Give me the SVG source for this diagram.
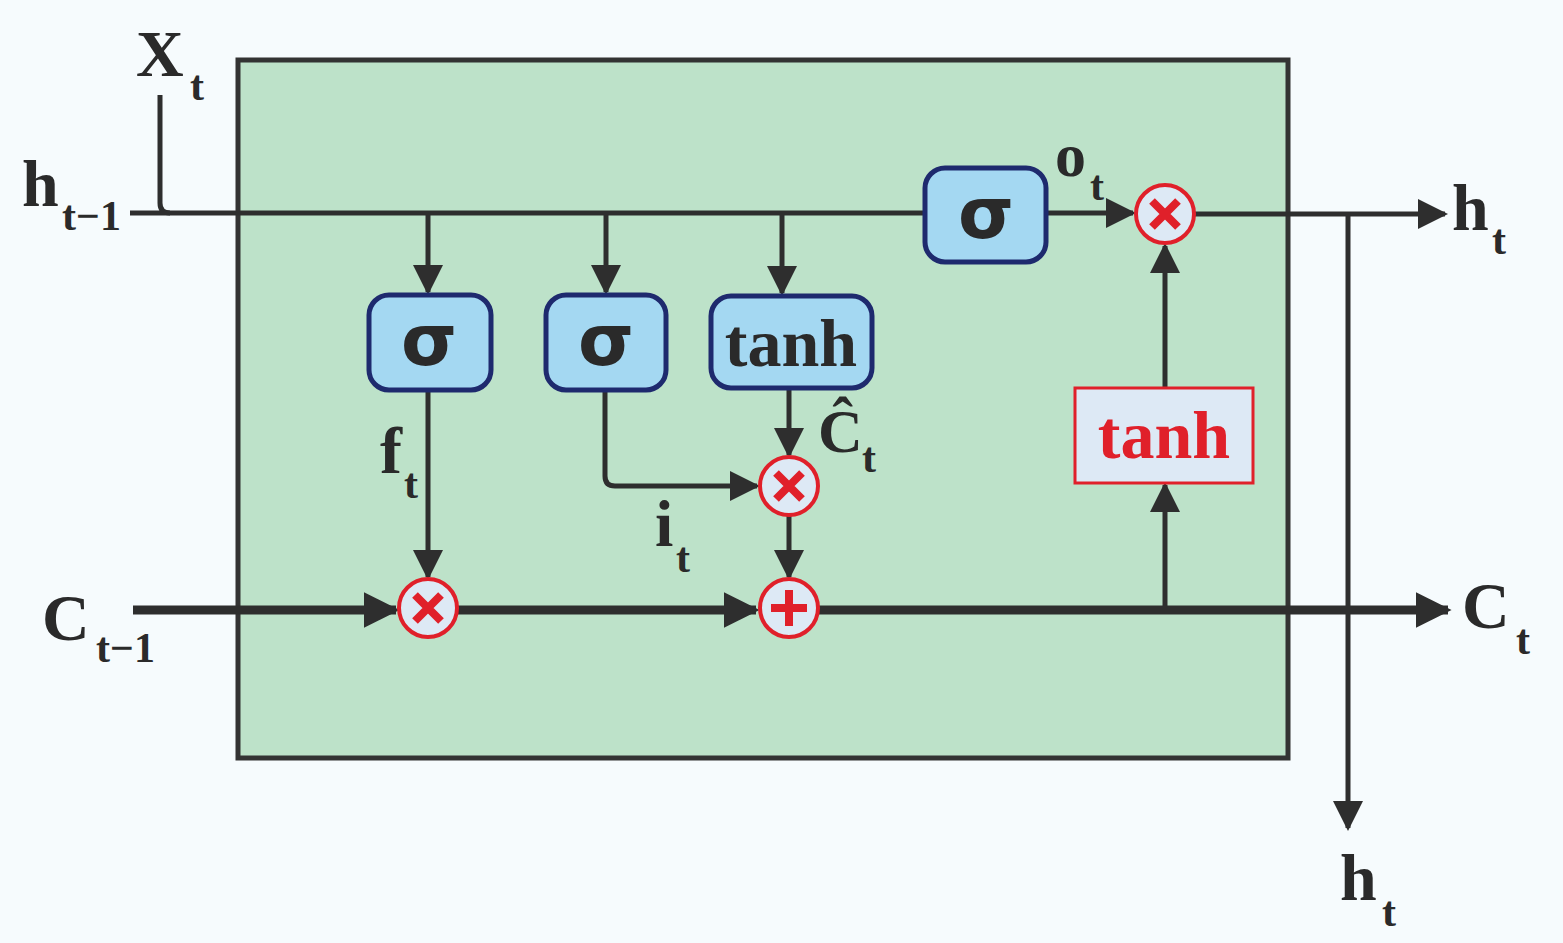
<svg xmlns="http://www.w3.org/2000/svg" width="1563" height="943" viewBox="0 0 1563 943">
<style>
.ln{stroke:#2e2e2e;stroke-width:5;fill:none}
.th{stroke:#2e2e2e;stroke-width:9;fill:none}
.gate{fill:#a4d8f2;stroke:#1e2a6e;stroke-width:5}
.op{fill:#dde9f5;stroke:#e0202a;stroke-width:4}
.sym{stroke:#e0202a;stroke-width:8;fill:none}
.t{font-family:"Liberation Serif",serif;font-weight:bold;fill:#2a2a2a}
.gt{font-family:"DejaVu Sans",sans-serif;font-weight:bold;fill:#2a2a2a;font-size:72px;text-anchor:middle}
</style>
<defs>
<marker id="a" viewBox="0 0 10 10" refX="9" refY="5" markerWidth="6" markerHeight="6" orient="auto" markerUnits="strokeWidth"><path d="M0,0L10,5L0,10z" fill="#2e2e2e"/></marker>
<marker id="b" viewBox="0 0 10 10" refX="9" refY="5" markerWidth="4" markerHeight="4" orient="auto" markerUnits="strokeWidth"><path d="M0,0L10,5L0,10z" fill="#2e2e2e"/></marker>
</defs>
<rect width="1563" height="943" fill="#f6fbfd"/>
<g id="cell"><rect x="238" y="60" width="1050" height="698" fill="#bde2c9" stroke="#333" stroke-width="5"/></g>
<g id="connectors">
<path class="ln" d="M160,95V203Q160,213 170,213"/>
<path class="ln" d="M130,213H925"/>
<path class="ln" d="M1046,213H1133" marker-end="url(#a)"/>
<path class="ln" d="M1194,214H1445" marker-end="url(#a)"/>
<path class="ln" d="M428,213V292" marker-end="url(#a)"/>
<path class="ln" d="M606,213V292" marker-end="url(#a)"/>
<path class="ln" d="M782,213V293" marker-end="url(#a)"/>
<path class="ln" d="M428,390V577" marker-end="url(#a)"/>
<path class="ln" d="M605,390V476Q605,486 615,486H757" marker-end="url(#a)"/>
<path class="ln" d="M789,388V455" marker-end="url(#a)"/>
<path class="ln" d="M789,515V577" marker-end="url(#a)"/>
<path class="th" d="M133,610H396" marker-end="url(#b)"/>
<path class="th" d="M457,610H756" marker-end="url(#b)"/>
<path class="th" d="M818,610H1448" marker-end="url(#b)"/>
<path class="ln" d="M1165,606V485" marker-end="url(#a)"/>
<path class="ln" d="M1165,388V246" marker-end="url(#a)"/>
<path class="ln" d="M1348,214V828" marker-end="url(#a)"/>
</g>
<g id="f_gate"><rect class="gate" x="369" y="295" width="122" height="95" rx="20"/><text class="gt" x="429" y="365">σ</text></g>
<g id="i_gate"><rect class="gate" x="546" y="295" width="120" height="95" rx="20"/><text class="gt" x="606" y="365">σ</text></g>
<g id="c_gate"><rect class="gate" x="711" y="296" width="161" height="92" rx="20"/><text class="t" x="791" y="366" font-size="68" text-anchor="middle">tanh</text></g>
<g id="o_gate"><rect class="gate" x="925" y="168" width="121" height="94" rx="20"/><text class="gt" x="986" y="238">σ</text></g>
<g id="mul_f"><circle class="op" cx="428" cy="608" r="29"/><path class="sym" d="M415,595L441,621M441,595L415,621"/></g>
<g id="mul_i"><circle class="op" cx="789" cy="486" r="29"/><path class="sym" d="M776,473L802,499M802,473L776,499"/></g>
<g id="add"><circle class="op" cx="789" cy="608" r="29"/><path class="sym" d="M789,590V626M771,608H807"/></g>
<g id="mul_o"><circle class="op" cx="1165" cy="214" r="29"/><path class="sym" d="M1152,201L1178,227M1178,201L1152,227"/></g>
<g id="tanh_out"><rect x="1075" y="388" width="178" height="95" fill="#dde9f5" stroke="#e0202a" stroke-width="3"/><text class="t" x="1164" y="458" font-size="68" text-anchor="middle" style="fill:#e0202a">tanh</text></g>
<g id="labels">
<text class="t" x="136" y="76" font-size="66">X</text><text class="t" x="190" y="100" font-size="42">t</text>
<text class="t" x="22" y="206" font-size="66">h</text><text class="t" x="62" y="230" font-size="42">t−1</text>
<text class="t" x="42" y="640" font-size="66">C</text><text class="t" x="96" y="662" font-size="42">t−1</text>
<text class="t" x="1452" y="230" font-size="66">h</text><text class="t" x="1492" y="254" font-size="42">t</text>
<text class="t" x="1462" y="628" font-size="66">C</text><text class="t" x="1516" y="654" font-size="42">t</text>
<text class="t" x="1340" y="900" font-size="66">h</text><text class="t" x="1382" y="926" font-size="42">t</text>
<text class="t" x="1055" y="176" font-size="62">o</text><text class="t" x="1090" y="200" font-size="42">t</text>
<text class="t" x="380" y="473" font-size="66">f</text><text class="t" x="404" y="498" font-size="42">t</text>
<text class="t" x="655" y="546" font-size="66">i</text><text class="t" x="676" y="572" font-size="42">t</text>
<text class="t" x="818" y="452" font-size="62">Ĉ</text><text class="t" x="862" y="472" font-size="42">t</text>
</g>
</svg>
